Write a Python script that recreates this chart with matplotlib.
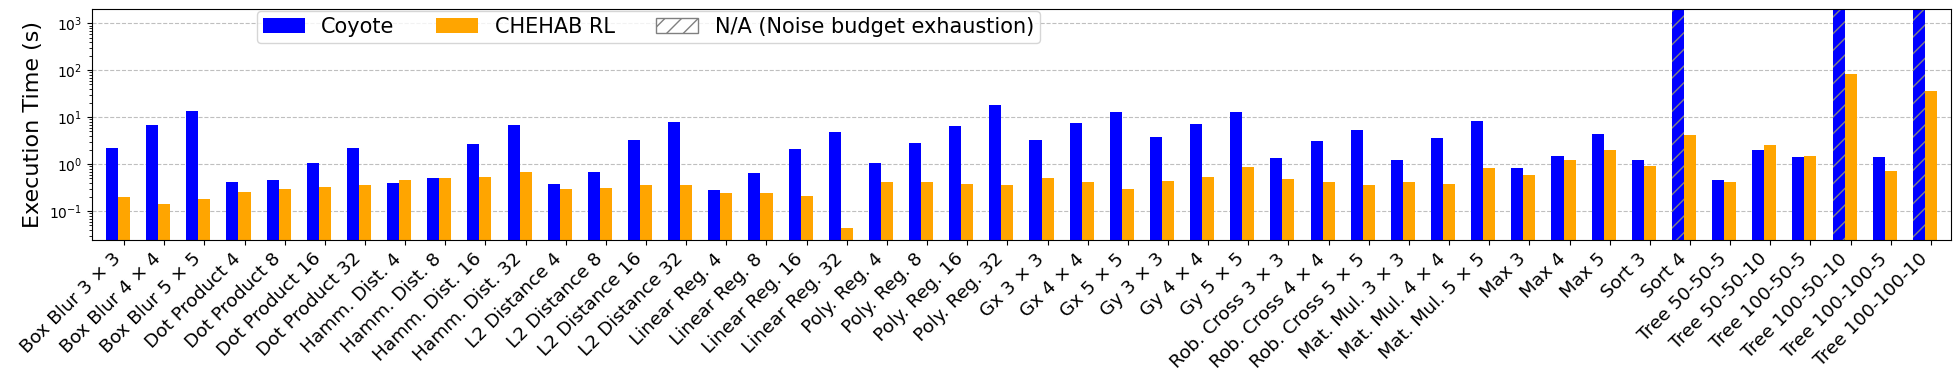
import numpy as np
import matplotlib
matplotlib.use('Agg')
import matplotlib.pyplot as plt
from matplotlib.patches import Patch

labels = ['Box Blur 3 × 3', 'Box Blur 4 × 4', 'Box Blur 5 × 5',
          'Dot Product 4', 'Dot Product 8', 'Dot Product 16', 'Dot Product 32',
          'Hamm. Dist. 4', 'Hamm. Dist. 8', 'Hamm. Dist. 16', 'Hamm. Dist. 32',
          'L2 Distance 4', 'L2 Distance 8', 'L2 Distance 16', 'L2 Distance 32',
          'Linear Reg. 4', 'Linear Reg. 8', 'Linear Reg. 16', 'Linear Reg. 32',
          'Poly. Reg. 4', 'Poly. Reg. 8', 'Poly. Reg. 16', 'Poly. Reg. 32',
          'Gx 3 × 3', 'Gx 4 × 4', 'Gx 5 × 5', 'Gy 3 × 3', 'Gy 4 × 4', 'Gy 5 × 5',
          'Rob. Cross 3 × 3', 'Rob. Cross 4 × 4', 'Rob. Cross 5 × 5',
          'Mat. Mul. 3 × 3', 'Mat. Mul. 4 × 4', 'Mat. Mul. 5 × 5',
          'Max 3', 'Max 4', 'Max 5', 'Sort 3', 'Sort 4',
          'Tree 50-50-5', 'Tree 50-50-10', 'Tree 100-50-5', 'Tree 100-50-10',
          'Tree 100-100-5', 'Tree 100-100-10']

# None = N/A (noise budget exhaustion)
coyote = [2.23, 6.9, 13.6,
          0.42, 0.46, 1.07, 2.23,
          0.40, 0.51, 2.7, 6.9,
          0.38, 0.69, 3.3, 7.9,
          0.28, 0.65, 2.1, 4.9,
          1.07, 2.84, 6.5, 18.3,
          3.3, 7.6, 13.0, 3.8, 7.2, 13.0,
          1.36, 3.1, 5.4,
          1.24, 3.6, 8.4,
          0.84, 1.5, 4.4, 1.24, None,
          0.46, 2.0, 1.43, None,
          1.43, None]

chehab = [0.20, 0.146, 0.18,
          0.26, 0.30, 0.33, 0.36,
          0.46, 0.51, 0.54, 0.69,
          0.30, 0.31, 0.36, 0.36,
          0.245, 0.245, 0.21, 0.044,
          0.42, 0.42, 0.38, 0.36,
          0.51, 0.42, 0.30, 0.44, 0.54, 0.88,
          0.49, 0.42, 0.36,
          0.42, 0.38, 0.84,
          0.59, 1.24, 2.0, 0.92, 4.2,
          0.42, 2.58, 1.5, 83.5,
          0.72, 36.3]


def main():
    ymin, ymax = 0.0245, 1990
    x = np.arange(len(labels))
    width = 0.3

    fig, ax = plt.subplots(figsize=(19.6, 3.88), dpi=100)
    fig.subplots_adjust(left=0.0469, right=0.9954, top=0.976, bottom=0.3814)

    ok = np.array([v is not None for v in coyote])
    na = ~ok
    coy_ok = np.array([v if v is not None else 0 for v in coyote])
    ax.bar(x[ok] - width, coy_ok[ok], width, color='blue', label='Coyote')
    # N/A bars run past the top of the axis
    ax.bar(x[na] - width, [ymax * 10] * int(na.sum()), width, color='blue',
           hatch='//', edgecolor='gray', linewidth=0)
    ax.bar(x, chehab, width, color='orange', label='CHEHAB RL')

    ax.set_yscale('log')
    ax.set_ylim(ymin, ymax)
    ax.set_xlim(-0.8, len(labels) - 0.5)
    ax.set_xticks(x)
    ax.set_xticklabels(labels, rotation=45, ha='right', fontsize=13.3)
    ax.tick_params(axis='y', labelsize=10)
    ax.set_ylabel('Execution Time (s)', fontsize=16)
    ax.grid(axis='y', which='major', linestyle='--', color='gray', alpha=0.5, linewidth=0.8)
    ax.set_axisbelow(True)

    handles, lbls = ax.get_legend_handles_labels()
    handles.append(Patch(facecolor='white', edgecolor='gray', hatch='//'))
    lbls.append('N/A (Noise budget exhaustion)')
    ax.legend(handles, lbls, loc='upper left', bbox_to_anchor=(0.0886, 0.994), ncol=3,
              fontsize=15, borderpad=0.3, borderaxespad=0)

    fig.savefig('out.png', dpi=100)


if __name__ == '__main__':
    main()
